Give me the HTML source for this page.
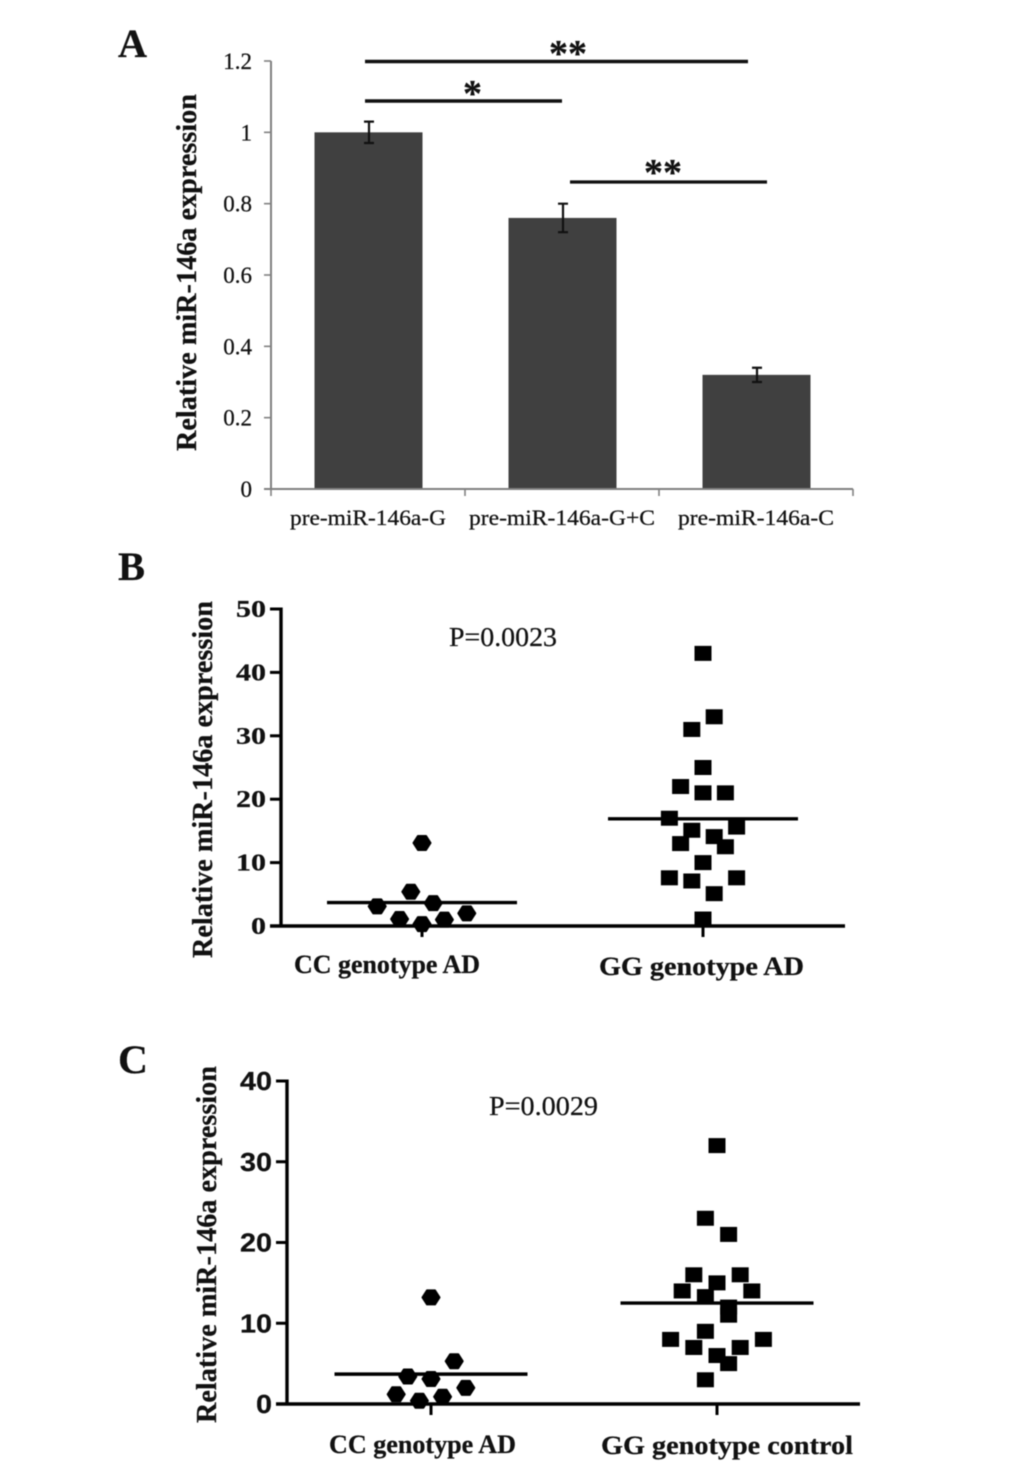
<!DOCTYPE html>
<html lang="en">
<head>
<meta charset="utf-8">
<title>Relative miR-146a expression</title>
<style>
  html, body { margin: 0; padding: 0; background: #fff; }
  svg { display: block; filter: blur(0.4px); }
  text { font-family: "Liberation Serif", serif; fill: #111; stroke: #111; stroke-width: 0.25px; }
  .panel { font-weight: bold; font-size: 40px; }
  .bold { font-weight: bold; }
</style>
</head>
<body>
<svg id="chart" xmlns="http://www.w3.org/2000/svg" width="1033" height="1468" viewBox="0 0 1033 1468">
  <text class="panel" x="118" y="57" textLength="29" lengthAdjust="spacingAndGlyphs">A</text>
  <text class="panel" x="118" y="580" textLength="27" lengthAdjust="spacingAndGlyphs">B</text>
  <text class="panel" x="118" y="1073" textLength="30" lengthAdjust="spacingAndGlyphs">C</text>

  <g id="panel-a">
    <text class="bold" font-size="29" transform="translate(196,451) rotate(-90)" textLength="357" lengthAdjust="spacingAndGlyphs">Relative miR-146a expression</text>
    <line x1="365" x2="748" y1="61.5" y2="61.5" stroke="#111" stroke-width="3.4"/>
    <line x1="365" x2="562" y1="101" y2="101" stroke="#111" stroke-width="3.4"/>
    <line x1="570" x2="767" y1="182" y2="182" stroke="#111" stroke-width="3.2"/>
    <text class="bold" font-size="38" x="549" y="66" textLength="38" lengthAdjust="spacingAndGlyphs">**</text>
    <text class="bold" font-size="38" x="463" y="106">*</text>
    <text class="bold" font-size="38" x="644" y="185" textLength="38" lengthAdjust="spacingAndGlyphs">**</text>
  </g>

  <g id="panel-b">
    <text class="bold" font-size="29" transform="translate(212,958) rotate(-90)" textLength="357" lengthAdjust="spacingAndGlyphs">Relative miR-146a expression</text>
    <text font-size="27" x="449" y="646" textLength="108" lengthAdjust="spacingAndGlyphs">P=0.0023</text>
  </g>

  <g id="panel-c">
    <text class="bold" font-size="29" transform="translate(216,1423) rotate(-90)" textLength="357" lengthAdjust="spacingAndGlyphs">Relative miR-146a expression</text>
    <text font-size="27" x="489" y="1115" textLength="109" lengthAdjust="spacingAndGlyphs">P=0.0029</text>
  </g>
</svg>

<script>
// Panel A data
const barCategories = ['pre-miR-146a-G', 'pre-miR-146a-G+C', 'pre-miR-146a-C'];
const barValues = [1, 0.76, 0.32];
const barErrors = [0.03, 0.04, 0.02];
const barTicks = [0, 0.2, 0.4, 0.6, 0.8, 1, 1.2];

// Panel B data
const bCategories = ['CC genotype AD', 'GG genotype AD'];
const bTicks = [0, 10, 20, 30, 40, 50];
const bCcValues = [13.1, 5.4, 3.6, 3.1, 2, 1.1, 1, 0.3];
const bCcSlots = [0, -1, 1, -4, 4, -2, 2, 0];
const bGgValues = [43, 33, 31, 25, 22, 21, 21, 17, 15.6, 15.1, 14.1, 13, 12.5, 10, 7.6, 7.6, 7.1, 5.1, 1.1];
const bGgSlots = [0, 1, -1, 0, -2, 0, 2, -3, 3, -1, 1, -2, 2, 0, -3, 3, -1, 1, 0];
const bMeans = [3.7, 16.9];

// Panel C data
const cCategories = ['CC genotype AD', 'GG genotype control'];
const cTicks = [0, 10, 20, 30, 40];
const cCcValues = [13.2, 5.3, 3.4, 3.1, 2, 1.2, 0.9, 0.4];
const cCcSlots = [0, 2, -2, 0, 3, -3, 1, -1];
const cGgValues = [32, 23, 21, 16, 16, 15, 14, 14, 13.3, 12, 11, 9, 8, 8, 7, 7, 6, 5, 3];
const cGgSlots = [0, -1, 1, -2, 2, 0, -3, 3, -1, 1, 1, -1, -4, 4, -2, 2, 0, 1, -1];
const cMeans = [3.7, 12.5];

const NS = 'http://www.w3.org/2000/svg';
function make(parent, tag, attrs, content) {
  const el = document.createElementNS(NS, tag);
  for (const k in attrs) el.setAttribute(k, attrs[k]);
  if (content !== undefined) el.textContent = content;
  parent.appendChild(el);
  return el;
}

// ---------- Panel A ----------
(function () {
  const root = document.getElementById('panel-a');
  const x0 = 271, x1 = 853, yBase = 489, yTop = 61, max = 1.2;
  const y = v => yBase - (v / max) * (yBase - yTop);
  const band = (x1 - x0) / barCategories.length;
  const cx = i => x0 + band * (i + 0.5);
  const barW = 108;
  const axisColor = '#808080';
  const labelWidths = [156, 186, 156];

  barValues.forEach((v, i) => {
    const bar = make(root, 'rect', { x: cx(i) - barW / 2 + 0.5, y: y(v), width: barW, height: yBase - y(v), fill: '#404040' });
    
    
    const ex = cx(i) + 1;
    const err = make(root, 'path', {
      d: `M${ex - 5} ${y(v + barErrors[i])}H${ex + 5}M${ex} ${y(v + barErrors[i])}V${y(v - barErrors[i])}M${ex - 5} ${y(v - barErrors[i])}H${ex + 5}`,
      stroke: '#111', 'stroke-width': 2.2, fill: 'none'
    });
    
    
    const label = make(root, 'text', {
      x: cx(i) - labelWidths[i] / 2, y: 525, 'font-size': 22.5,
      textLength: labelWidths[i], lengthAdjust: 'spacingAndGlyphs'
    }, barCategories[i]);
    
    
  });

  const yAxis = make(root, 'line', { x1: x0, x2: x0, y1: yTop, y2: yBase + 1, stroke: axisColor, 'stroke-width': 2 });
  
  
  const xAxis = make(root, 'line', { x1: x0 - 7, x2: x1, y1: yBase, y2: yBase, stroke: axisColor, 'stroke-width': 2 });
  
  

  barTicks.forEach(t => {
    const tick = make(root, 'line', { x1: x0 - 7, x2: x0, y1: y(t), y2: y(t), stroke: axisColor, 'stroke-width': 1.6 });
    
    
    const label = make(root, 'text', { x: 252, y: y(t) + 8, 'font-size': 23, 'text-anchor': 'end' }, String(t));
    
    
  });
  for (let i = 0; i <= barCategories.length; i++) {
    const tx = x0 + band * i;
    const tick = make(root, 'line', { x1: tx, x2: tx, y1: yBase, y2: yBase + 7, stroke: axisColor, 'stroke-width': 1.6 });
    
    
  }
})();

// ---------- Panels B & C ----------
function scatter(cfg) {
  const root = document.getElementById(cfg.id);
  const y = v => cfg.y0 - (v / cfg.max) * (cfg.y0 - cfg.yTop);

  const yAxis = make(root, 'line', { x1: cfg.x0, x2: cfg.x0, y1: cfg.yTop - 1.5, y2: cfg.y0 + 1.5, stroke: '#000', 'stroke-width': 3.4 });
  
  
  const xAxis = make(root, 'line', { x1: cfg.x0 - 11, x2: cfg.x1, y1: cfg.y0, y2: cfg.y0, stroke: '#000', 'stroke-width': 3.4 });
  
  

  cfg.ticks.forEach(t => {
    const tick = make(root, 'line', { x1: cfg.x0 - 11, x2: cfg.x0, y1: y(t), y2: y(t), stroke: '#000', 'stroke-width': 3 });
    
    
    const text = String(t);
    const label = make(root, 'text', {
      x: cfg.x0 - 15 - cfg.digitW * text.length, y: y(t) + cfg.tickDrop, 'font-size': cfg.tickSize, 'font-weight': 'bold',
      textLength: cfg.digitW * text.length, lengthAdjust: 'spacingAndGlyphs',
      style: 'font-family:' + cfg.tickFont
    }, text);
    
    
  });

  cfg.groups.forEach((g, gi) => {
    const tick = make(root, 'line', { x1: g.cx, x2: g.cx, y1: cfg.y0, y2: cfg.y0 + 11, stroke: '#000', 'stroke-width': 3 });
    
    

    g.values.forEach((v, i) => {
      const px = g.cx + g.slots[i] * cfg.slot;
      const py = y(v);
      let mark;
      if (g.shape === 'square') {
        mark = make(root, 'rect', { x: px - 8.5, y: py - 7.5, width: 17, height: 15, fill: '#000' });
      } else {
        mark = make(root, 'polygon', {
          points: `${px - 8.5},${py} ${px - 4},${py - 7} ${px + 4},${py - 7} ${px + 8.5},${py} ${px + 4},${py + 7} ${px - 4},${py + 7}`,
          fill: '#000', stroke: '#000', 'stroke-width': 2, 'stroke-linejoin': 'round'
        });
      }
      
      
    });

    const mean = make(root, 'line', { x1: g.cx - cfg.meanHalf, x2: g.cx + cfg.meanHalf, y1: y(cfg.means[gi]), y2: y(cfg.means[gi]), stroke: '#000', 'stroke-width': 3.4 });
    
    

    const label = make(root, 'text', {
      x: g.labelX, y: g.labelY, 'font-size': 26, 'font-weight': 'bold',
      textLength: g.labelW, lengthAdjust: 'spacingAndGlyphs'
    }, cfg.categories[gi]);
    
    
  });
}

scatter({
  id: 'panel-b', x0: 281, x1: 845, y0: 926, yTop: 609, max: 50, slot: 11.2, meanHalf: 95,
  ticks: bTicks, categories: bCategories, means: bMeans,
  tickFont: '"Liberation Serif", serif', tickSize: 24, digitW: 15, tickDrop: 8,
  groups: [
    { cx: 422, shape: 'circle', values: bCcValues, slots: bCcSlots, labelX: 294, labelY: 973, labelW: 186 },
    { cx: 703, shape: 'square', values: bGgValues, slots: bGgSlots, labelX: 599, labelY: 975, labelW: 205 }
  ]
});

scatter({
  id: 'panel-c', x0: 287, x1: 860, y0: 1404, yTop: 1081, max: 40, slot: 11.6, meanHalf: 96.5,
  ticks: cTicks, categories: cCategories, means: cMeans,
  tickFont: '"Liberation Sans", sans-serif', tickSize: 26, digitW: 16, tickDrop: 9,
  groups: [
    { cx: 431, shape: 'circle', values: cCcValues, slots: cCcSlots, labelX: 329, labelY: 1453, labelW: 187 },
    { cx: 717, shape: 'square', values: cGgValues, slots: cGgSlots, labelX: 601, labelY: 1454, labelW: 252 }
  ]
});
</script>
</body>
</html>
